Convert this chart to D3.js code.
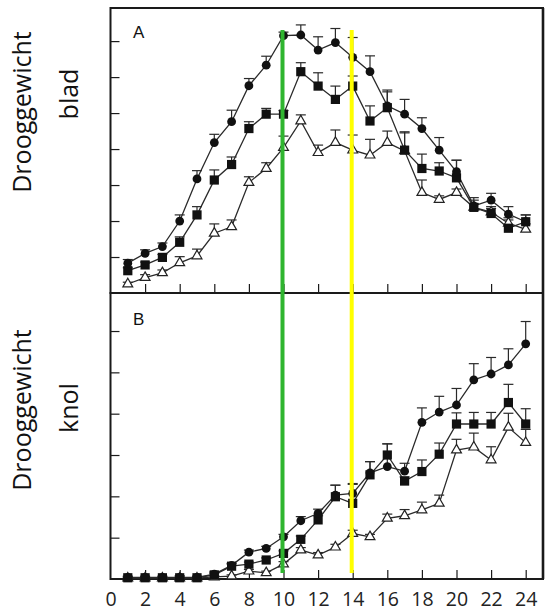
<!DOCTYPE html>
<html>
<head>
<meta charset="utf-8">
<script src="https://cdn.jsdelivr.net/npm/d3@7"></script>
<style>
  html, body { margin: 0; padding: 0; background: #fff; }
  svg { display: block; }
  .ylab { font-family: "Open Sans", sans-serif; font-size: 25px; fill: #111; }
  .tick text { font-family: "Open Sans", sans-serif; font-size: 19.5px; fill: #222; }
  .panel-letter { font-family: "Liberation Sans", Arial, sans-serif; font-size: 17px; fill: #111; }
</style>
</head>
<body>
<svg id="chart" width="549" height="612"></svg>
<script>
// Weeks after planting
const weeks = [1,2,3,4,5,6,7,8,9,10,11,12,13,14,15,16,17,18,19,20,21,22,23,24];
const xTickValues = [0,2,4,6,8,10,12,14,16,18,20,22,24];
const xTickLabels = ["0","2","4","6","8","10","12","14","16","18","20","22","24"];

// Panel A: leaf dry weight (three treatments)
const bladCircle    = [0.83,1.10,1.29,2.00,3.17,4.18,4.76,5.76,6.33,7.15,7.17,6.75,6.96,6.55,6.15,5.20,4.97,4.57,3.97,3.37,2.42,2.58,2.19,1.98];
const bladCircleErr = [0.10,0.10,0.10,0.17,0.23,0.23,0.32,0.20,0.25,0.10,0.28,0.37,0.39,0.55,0.44,0.44,0.41,0.30,0.35,0.32,0.23,0.19,0.21,0.19];
const bladSquare    = [0.62,0.78,0.99,1.41,2.17,3.14,3.57,4.57,4.97,4.97,6.15,5.75,5.38,5.75,4.78,5.15,3.97,3.46,3.39,3.20,2.38,2.21,1.80,1.98];
const bladSquareErr = [0.08,0.08,0.08,0.15,0.23,0.28,0.21,0.19,0.16,0.10,0.25,0.37,0.37,0.28,0.42,0.44,0.51,0.40,0.23,0.49,0.20,0.14,0.23,0.19];
const bladTri       = [0.25,0.43,0.56,0.84,1.03,1.66,1.84,3.07,3.46,4.04,4.78,3.90,4.18,3.97,3.83,4.18,3.95,2.79,2.60,2.79,2.38,2.25,1.94,1.77];
const bladTriErr    = [0.05,0.08,0.08,0.17,0.19,0.26,0.19,0.16,0.16,0.32,0.17,0.21,0.35,0.42,0.44,0.32,0.50,0.35,0.10,0.10,0.10,0.15,0.15,0.15];

// Panel B: tuber dry weight (same three treatments)
const knolCircle    = [0.04,0.04,0.04,0.04,0.04,0.12,0.33,0.65,0.74,1.02,1.41,1.59,2.03,2.07,2.57,2.72,2.61,3.79,4.04,4.21,4.82,4.96,5.18,5.69];
const knolCircleErr = [0.03,0.03,0.03,0.04,0.03,0.05,0.05,0.05,0.05,0.06,0.10,0.10,0.24,0.24,0.27,0.55,0.19,0.35,0.38,0.40,0.39,0.40,0.39,0.54];
const knolSquare    = [0.03,0.03,0.03,0.03,0.03,0.10,0.31,0.36,0.46,0.62,0.96,1.43,1.99,1.83,2.52,3.00,2.37,2.60,3.02,3.75,3.75,3.75,4.27,3.75];
const knolSquareErr = [0.02,0.02,0.02,0.02,0.02,0.04,0.05,0.05,0.05,0.06,0.08,0.10,0.28,0.46,0.32,0.27,0.10,0.28,0.27,0.27,0.28,0.28,0.44,0.37];
const knolTri       = [0.02,0.02,0.02,0.02,0.02,0.05,0.07,0.19,0.15,0.36,0.70,0.58,0.77,1.10,1.02,1.47,1.53,1.67,1.83,3.12,3.19,2.88,3.67,3.30];
const knolTriErr    = [0.02,0.02,0.02,0.02,0.02,0.03,0.03,0.04,0.04,0.06,0.06,0.06,0.07,0.08,0.06,0.10,0.15,0.19,0.20,0.26,0.34,0.32,0.34,0.32];

// Week markers highlighted on both panels
const markWeeks = [10, 14];
const markColors = ["#2fb52f", "#ffff00"];

const svg = d3.select("#chart");

const x = d3.scaleLinear().domain([0, 25]).range([110.5, 543]);
const yA = d3.scaleLinear().domain([0, 7.92]).range([293, 8]);
const yB = d3.scaleLinear().domain([0, 6.92]).range([579, 293]);

const ink = "#1a1a1a";

function drawPanel(y, series, yTicks, showLabels, letter, letterY) {
  const g = svg.append("g");
  const [y0, y1] = y.range();

  // frame
  g.append("rect")
    .attr("x", x(0)).attr("y", y1)
    .attr("width", x(25) - x(0)).attr("height", y0 - y1)
    .attr("fill", "none").attr("stroke", ink).attr("stroke-width", 2);

  // x axis ticks pointing inward
  const xAxis = d3.axisBottom(x)
    .tickValues(xTickValues)
    .tickSizeInner(-9).tickSizeOuter(0)
    .tickPadding(showLabels ? 27 : 0)
    .tickFormat((d, i) => showLabels ? xTickLabels[i] : "");
  const ax = g.append("g").attr("transform", `translate(0,${y0})`).call(xAxis);
  ax.select(".domain").remove();
  ax.selectAll(".tick line").attr("stroke", ink).attr("stroke-width", 1.2);
  ax.selectAll(".tick").filter(d => d === 0).select("line").remove();
  ax.selectAll(".tick text").attr("dy", 0).attr("fill", "#222");

  // y axis ticks pointing inward, unlabeled
  const yAxis = d3.axisLeft(y).tickValues(yTicks).tickSizeInner(-9).tickSizeOuter(0).tickFormat("");
  const ay = g.append("g").attr("transform", `translate(${x(0)},0)`).call(yAxis);
  ay.select(".domain").remove();
  ay.selectAll(".tick line").attr("stroke", ink).attr("stroke-width", 1.2);

  const line = d3.line().x((d, i) => x(weeks[i])).y(d => y(d));

  series.forEach(s => {
    g.append("path").datum(s.values)
      .attr("d", line).attr("fill", "none")
      .attr("stroke", "#2a2a2a").attr("stroke-width", 1.3);
  });

  // upward error bars with caps
  series.forEach(s => {
    const eb = g.append("g").attr("stroke", "#2a2a2a").attr("stroke-width", 1.2);
    s.values.forEach((v, i) => {
      const cx = x(weeks[i]);
      const top = y(v + s.err[i]);
      eb.append("line").attr("x1", cx).attr("x2", cx).attr("y1", y(v)).attr("y2", top);
      eb.append("line").attr("x1", cx - 5).attr("x2", cx + 5).attr("y1", top).attr("y2", top);
    });
  });

  // markers
  series.forEach(s => {
    const mg = g.append("g");
    s.values.forEach((v, i) => {
      const cx = x(weeks[i]), cy = y(v);
      if (s.shape === "circle") {
        mg.append("circle").attr("cx", cx).attr("cy", cy).attr("r", 4.4).attr("fill", "#111");
      } else if (s.shape === "square") {
        mg.append("rect").attr("x", cx - 4.6).attr("y", cy - 4.6).attr("width", 9.2).attr("height", 9.2).attr("fill", "#111");
      } else {
        const sym = d3.symbol().type(d3.symbolTriangle).size(42);
        mg.append("path").attr("d", sym()).attr("transform", `translate(${cx},${cy})`)
          .attr("fill", "#fff").attr("stroke", "#222").attr("stroke-width", 1.2);
      }
    });
  });

  g.append("text").attr("class", "panel-letter")
    .attr("x", 133).attr("y", letterY).text(letter);
}

drawPanel(yA, [
  { values: bladTri, err: bladTriErr, shape: "triangle" },
  { values: bladSquare, err: bladSquareErr, shape: "square" },
  { values: bladCircle, err: bladCircleErr, shape: "circle" }
], [1,2,3,4,5,6,7], false, "A", 38);

drawPanel(yB, [
  { values: knolTri, err: knolTriErr, shape: "triangle" },
  { values: knolSquare, err: knolSquareErr, shape: "square" },
  { values: knolCircle, err: knolCircleErr, shape: "circle" }
], [1,2,3,4,5,6], true, "B", 325);

// right-hand frame edge is drawn heavier
svg.append("line")
  .attr("x1", x(25)).attr("x2", x(25))
  .attr("y1", yA.range()[1]).attr("y2", yB.range()[0])
  .attr("stroke", ink).attr("stroke-width", 2.6);

// highlighted weeks spanning both panels
markWeeks.forEach((w, i) => {
  svg.append("line")
    .attr("x1", x(w) - 1).attr("x2", x(w) - 1)
    .attr("y1", 30).attr("y2", 573)
    .attr("stroke", markColors[i]).attr("stroke-width", 4);
});

// rotated axis titles, each line placed on its own baseline
function yTitleLine(text, baseX, cy) {
  svg.append("text").attr("class", "ylab")
    .attr("text-anchor", "middle")
    .attr("transform", `translate(${baseX},${cy}) rotate(-90)`)
    .text(text);
}
yTitleLine("Drooggewicht", 31, 112);
yTitleLine("blad", 78, 94);
yTitleLine("Drooggewicht", 31, 410);
yTitleLine("knol", 78, 408);
</script>
</body>
</html>
